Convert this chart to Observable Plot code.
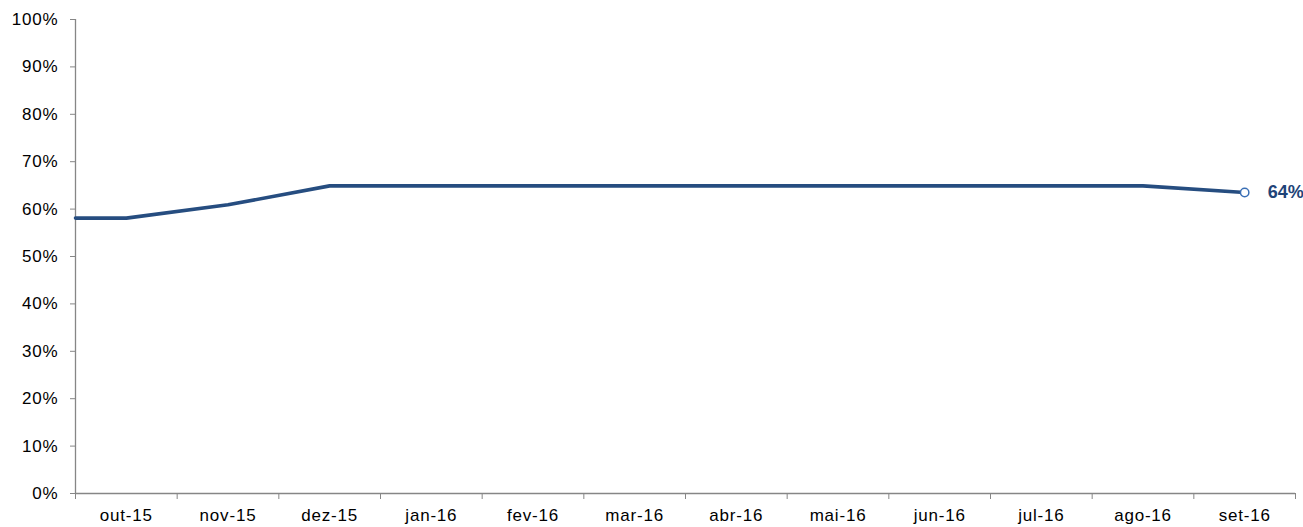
<!DOCTYPE html>
<html>
<head>
<meta charset="utf-8">
<script src="https://cdn.jsdelivr.net/npm/d3@7"></script>
<script src="https://cdn.jsdelivr.net/npm/@observablehq/plot@0.6"></script>
<style>
  html, body { margin: 0; padding: 0; background: #fff; }
  #chart svg { display: block; font-family: "Liberation Sans", Arial, sans-serif; }
</style>
</head>
<body>
<div id="chart"></div>
<script>
const months = ["out-15", "nov-15", "dez-15", "jan-16", "fev-16", "mar-16", "abr-16", "mai-16", "jun-16", "jul-16", "ago-16", "set-16"];
const values = [0.581, 0.609, 0.649, 0.649, 0.649, 0.649, 0.649, 0.649, 0.649, 0.649, 0.649, 0.635];
const yTicks = [0, 0.1, 0.2, 0.3, 0.4, 0.5, 0.6, 0.7, 0.8, 0.9, 1.0];

const n = months.length;
const pts = values.map((v, i) => ({x: i, y: v}));
// line continues flat from the left edge of the category axis
const linePts = [{x: -0.5, y: values[0]}, ...pts];
const last = pts[pts.length - 1];
const boundaries = d3.range(n + 1).map(i => i - 0.5);

const axisColor = "#868686";
const lineColor = "#264d80";

const chart = Plot.plot({
  width: 1303,
  height: 527,
  marginLeft: 75,
  marginRight: 8,
  marginTop: 19,
  marginBottom: 34,
  style: {fontFamily: "Liberation Sans, Arial, sans-serif", background: "#fff", overflow: "visible"},
  x: {type: "linear", domain: [-0.5, n - 0.5]},
  y: {domain: [0, 1]},
  marks: [
    Plot.ruleX([-0.5], {stroke: axisColor, strokeWidth: 1.3}),
    Plot.ruleY([0], {stroke: axisColor, strokeWidth: 1.3}),
    Plot.axisY({
      ticks: yTicks,
      tickFormat: d3.format(".0%"),
      tickSize: 5,
      tickPadding: 12,
      stroke: axisColor,
      fill: "#000",
      fontSize: 17,
      label: null
    }),
    Plot.axisX({
      ticks: boundaries,
      tickFormat: () => "",
      tickSize: 6,
      stroke: axisColor,
      label: null
    }),
    Plot.axisX({
      ticks: d3.range(n),
      tickFormat: i => months[i],
      tickSize: 0,
      tickPadding: 15,
      fill: "#000",
      fontSize: 17,
      label: null
    }),
    Plot.line(linePts, {x: "x", y: "y", stroke: lineColor, strokeWidth: 3.6, strokeLinejoin: "round"}),
    Plot.dot([last], {x: "x", y: "y", r: 4.2, fill: "#fff", stroke: "#3a6fb5", strokeWidth: 1.5}),
    Plot.text([last], {
      x: "x", y: "y",
      text: d => Math.round(d.y * 100) + "%",
      dx: 23,
      textAnchor: "start",
      fontWeight: "bold",
      fontSize: 18,
      fill: "#1f4478",
      className: "endlabel"
    })
  ]
});

d3.select(chart).selectAll("g[aria-label='y-axis tick label'], g[aria-label='x-axis tick label']")
  .style("font-size", "17px");
d3.select(chart).selectAll("g[aria-label='y-axis tick label'] text, g[aria-label='x-axis tick label'] text")
  .style("font-size", "17px")
  .style("letter-spacing", "0.8px");

document.getElementById("chart").appendChild(chart);
</script>
</body>
</html>
